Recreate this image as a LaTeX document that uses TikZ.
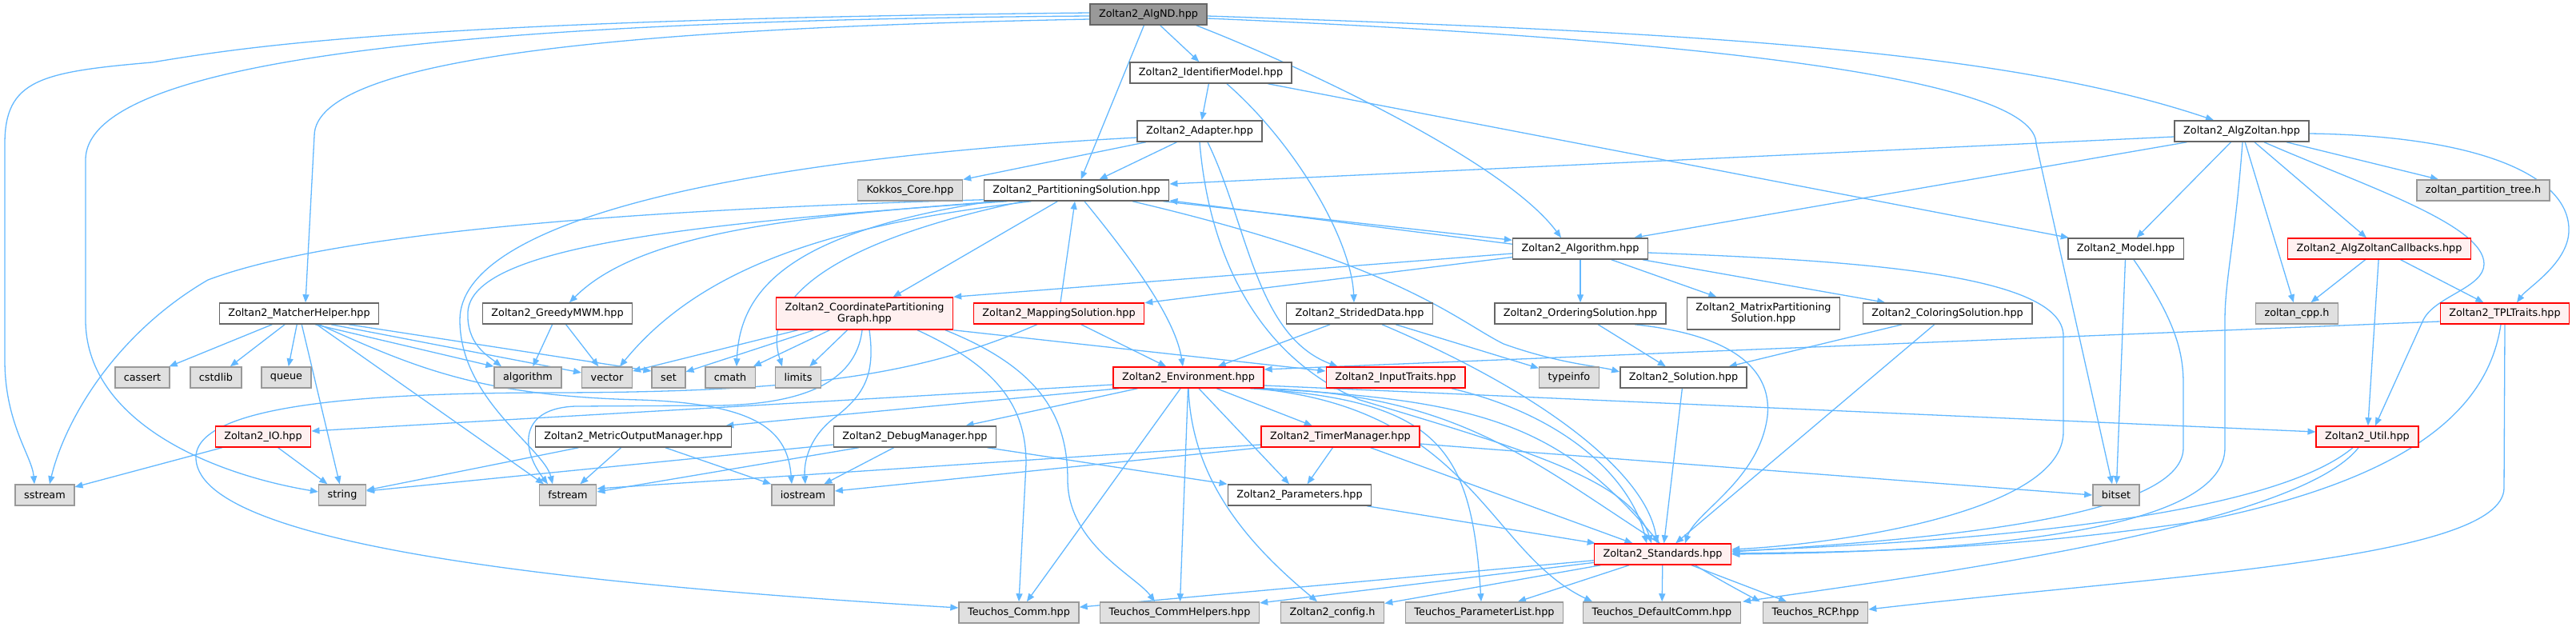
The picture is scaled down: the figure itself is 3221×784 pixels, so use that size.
\documentclass[tikz,border=0pt]{standalone}
\usepackage{fontspec}
\setmainfont{DejaVu Sans}
\usepackage{tikz}
\usetikzlibrary{arrows.meta}

\definecolor{edgeblue}{HTML}{63B8FF}
\definecolor{boxgray}{HTML}{666666}
\definecolor{sysgray}{HTML}{999999}
\definecolor{sysfill}{HTML}{E0E0E0}
\definecolor{truncfill}{HTML}{FFF0F0}
\definecolor{rootfill}{HTML}{999999}

\pgfdeclarelayer{background}
\pgfsetlayers{background,main}

\begin{document}
\begin{tikzpicture}[x=1pt, y=-1pt,
    file/.style={draw=boxgray, fill=white, line width=1.5pt, minimum height=26pt,
      inner xsep=11pt, inner ysep=1pt, align=center,
      font=\fontsize{12.8}{14.6}\selectfont},
    sysfile/.style={file, draw=sysgray, fill=sysfill},
    truncfile/.style={file, draw=red, fill=truncfill},
    rootfile/.style={file, fill=rootfill},
    dep/.style={draw=edgeblue, line width=1.3pt, -{Triangle[length=10pt,width=8pt]}}]
      \useasboundingbox (0,0) rectangle (3221,784);

      % Vertices
      \node[rootfile] (root) at (1436,18) {Zoltan2\_AlgND.hpp};
      \node[file] (idmodel) at (1514,91) {Zoltan2\_IdentifierModel.hpp};
      \node[file] (adapter) at (1500,164) {Zoltan2\_Adapter.hpp};
      \node[file] (algzoltan) at (2803,164) {Zoltan2\_AlgZoltan.hpp};
      \node[sysfile] (kokkos) at (1138,238) {Kokkos\_Core.hpp};
      \node[file] (partsol) at (1346,238) {Zoltan2\_PartitioningSolution.hpp};
      \node[sysfile] (ptree) at (3105,238) {zoltan\_partition\_tree.h};
      \node[file] (alg) at (1976,311) {Zoltan2\_Algorithm.hpp};
      \node[file] (model) at (2658,311) {Zoltan2\_Model.hpp};
      \node[truncfile] (callbacks) at (2975,311) {Zoltan2\_AlgZoltanCallbacks.hpp};
      \node[file] (matcher) at (374,392) {Zoltan2\_MatcherHelper.hpp};
      \node[file] (greedy) at (697,392) {Zoltan2\_GreedyMWM.hpp};
      \node[truncfile, minimum height=40pt] (coordgraph) at (1081,392)
  {Zoltan2\_CoordinatePartitioning\\Graph.hpp};
      \node[truncfile] (mapsol) at (1324,392) {Zoltan2\_MappingSolution.hpp};
      \node[file] (strided) at (1700,392) {Zoltan2\_StridedData.hpp};
      \node[file] (ordsol) at (1976,392) {Zoltan2\_OrderingSolution.hpp};
      \node[file, minimum height=40pt] (matsol) at (2205,392)
  {Zoltan2\_MatrixPartitioning\\Solution.hpp};
      \node[file] (colsol) at (2435,392) {Zoltan2\_ColoringSolution.hpp};
      \node[sysfile] (zoltancpp) at (2872,392) {zoltan\_cpp.h};
      \node[truncfile] (tpltraits) at (3132,392) {Zoltan2\_TPLTraits.hpp};
      \node[sysfile] (cassert) at (178,472) {cassert};
      \node[sysfile] (cstdlib) at (270,472) {cstdlib};
      \node[sysfile] (queue) at (358,472) {queue};
      \node[sysfile] (algo) at (660,472) {algorithm};
      \node[sysfile] (vector) at (759,472) {vector};
      \node[sysfile] (set) at (836,472) {set};
      \node[sysfile] (cmath) at (913,472) {cmath};
      \node[sysfile] (limits) at (998,472) {limits};
      \node[truncfile] (env) at (1486,472) {Zoltan2\_Environment.hpp};
      \node[truncfile] (inputtraits) at (1745,472) {Zoltan2\_InputTraits.hpp};
      \node[sysfile] (typeinfo) at (1962,472) {typeinfo};
      \node[file] (solution) at (2105,472) {Zoltan2\_Solution.hpp};
      \node[truncfile] (io) at (329,546) {Zoltan2\_IO.hpp};
      \node[file] (metric) at (792,546) {Zoltan2\_MetricOutputManager.hpp};
      \node[file] (debug) at (1144,546) {Zoltan2\_DebugManager.hpp};
      \node[truncfile] (timer) at (1676,546) {Zoltan2\_TimerManager.hpp};
      \node[truncfile] (util) at (2960,546) {Zoltan2\_Util.hpp};
      \node[sysfile] (sstream) at (56,619) {sstream};
      \node[sysfile] (string) at (428,619) {string};
      \node[sysfile] (fstream) at (710,619) {fstream};
      \node[sysfile] (iostream) at (1004,619) {iostream};
      \node[file] (params) at (1625,619) {Zoltan2\_Parameters.hpp};
      \node[sysfile] (bitset) at (2646,619) {bitset};
      \node[truncfile] (standards) at (2079,693) {Zoltan2\_Standards.hpp};
      \node[sysfile] (tcomm) at (1274,766) {Teuchos\_Comm.hpp};
      \node[sysfile] (tcommhelp) at (1475,766) {Teuchos\_CommHelpers.hpp};
      \node[sysfile] (config) at (1666,766) {Zoltan2\_config.h};
      \node[sysfile] (plist) at (1856,766) {Teuchos\_ParameterList.hpp};
      \node[sysfile] (defcomm) at (2078,766) {Teuchos\_DefaultComm.hpp};
      \node[sysfile] (rcp) at (2270,766) {Teuchos\_RCP.hpp};

      % Edges
      \begin{pgfonlayer}{background}
      \draw[dep] ([yshift=2pt]root.west) .. controls (500,25) and (300,60) .. (190,78) .. controls (50,90) and (6,100) .. (6,180) -- (6,450) .. controls (6,530) and (40,570) .. ([xshift=-13pt]sstream.north);
      \draw[dep] ([yshift=-2pt]root.west) .. controls (700,25) and (107,60) .. (107,200) -- (107,400) .. controls (107,520) and (250,590) .. ([yshift=4pt]string.west);
      \draw[dep] ([yshift=-6pt]root.west) .. controls (800,35) and (393,70) .. (393,170) -- ([xshift=8pt]matcher.north);
      \draw[dep] (root) -- (partsol);
      \draw[dep] (root) -- (idmodel);
      \draw[dep] ([xshift=-14pt]root.south east) .. controls (1620,80) and (1880,200) .. ([xshift=-24pt]alg.north);
      \draw[dep] ([yshift=-2pt]root.east) .. controls (2100,40) and (2500,60) .. ([xshift=-35pt]algzoltan.north);
      \draw[dep] ([yshift=-5pt]root.east) .. controls (2150,50) and (2546,100) .. (2546,180) -- ([xshift=-5pt]bitset.north);

      \draw[dep] (idmodel) -- (adapter);
      \draw[dep] ([xshift=20pt]idmodel.south) .. controls (1620,180) and (1690,300) .. ([xshift=-7pt]strided.north);
      \draw[dep] (idmodel) -- (model);

      \draw[dep] (adapter) -- (kokkos);
      \draw[dep] (adapter) -- (partsol);
      \draw[dep] ([yshift=-8pt]adapter.west) .. controls (900,200) and (575,280) .. (575,400) .. controls (575,500) and (680,560) .. ([xshift=-19pt]fstream.north);
      \draw[dep] (adapter.south) .. controls (1510,300) and (1560,440) .. (1700,500) .. controls (1900,560) and (2040,600) .. ([xshift=-14pt]standards.north);
      \draw[dep] ([xshift=10pt]adapter.south) .. controls (1560,280) and (1570,420) .. ([xshift=15pt]inputtraits.north west);

      \draw[dep] ([xshift=-8pt]partsol.south east) -- ([yshift=-3pt]alg.north west);
      \draw[dep] ([yshift=-8pt]alg.north west) -- ([yshift=1pt]partsol.south east);
      \draw[dep] ([yshift=2pt]partsol.south west) .. controls (800,262) and (420,290) .. (260,350) .. controls (140,420) and (80,530) .. ([xshift=6pt]sstream.north);
      \draw[dep] ([xshift=20pt]partsol.south west) .. controls (1000,270) and (800,290) .. ([xshift=15pt]greedy.north);
      \draw[dep] ([xshift=30pt]partsol.south west) .. controls (850,280) and (590,310) .. (585,390) .. controls (583,430) and (610,445) .. ([xshift=-33pt]algo.north);
      \draw[dep] ([xshift=60pt]partsol.south west) .. controls (1050,280) and (880,330) .. ([xshift=16pt]vector.north);
      \draw[dep] ([xshift=10pt]partsol.south west) .. controls (990,290) and (925,360) .. ([xshift=8pt]cmath.north);
      \draw[dep] ([xshift=50pt]partsol.south west) .. controls (1050,300) and (950,370) .. ([xshift=-20pt]limits.north);
      \draw[dep] (partsol) -- (coordgraph);
      \draw[dep] ([xshift=10pt]partsol.south) .. controls (1420,330) and (1470,400) .. ([xshift=-7pt]env.north);
      \draw[dep] ([xshift=70pt]partsol.south) .. controls (1750,330) and (1820,400) .. (1880,430) .. controls (1950,455) and (2000,458) .. ([yshift=7pt]solution.west);

      \draw[dep] (mapsol) -- (partsol);
      \draw[dep] (mapsol) -- (env);
      \draw[dep] ([xshift=80pt]mapsol.south west) .. controls (1150,470) and (1000,490) .. (700,491) .. controls (500,491) and (250,500) .. (245,570) .. controls (240,680) and (700,730) .. ([yshift=6pt]tcomm.west);

      \draw[dep] (coordgraph) -- (vector);
      \draw[dep] (coordgraph) -- (set);
      \draw[dep] (coordgraph) -- (cmath);
      \draw[dep] (coordgraph) -- (limits);
      \draw[dep] ([xshift=-3pt]coordgraph.south) .. controls (1070,480) and (1000,505) .. (900,507) -- (720,508) .. controls (650,510) and (650,560) .. ([xshift=-25pt]fstream.north);
      \draw[dep] ([xshift=6pt]coordgraph.south) .. controls (1095,470) and (1080,495) .. (1040,525) .. controls (1010,550) and (1005,580) .. ([xshift=3pt]iostream.north);
      \draw[dep] ([xshift=66pt]coordgraph.south) .. controls (1250,460) and (1283,510) .. (1283,580) -- (tcomm.north);
      \draw[dep] ([xshift=101pt]coordgraph.south) .. controls (1300,460) and (1335,520) .. (1335,600) .. controls (1335,680) and (1420,720) .. ([xshift=-31pt]tcommhelp.north);
      \draw[dep] (coordgraph.south east) -- ([yshift=8pt]inputtraits.west);

      \draw[dep] ([yshift=-6pt]alg.west) -- (coordgraph.north east);
      \draw[dep] (alg) -- (mapsol);
      \draw[dep] (alg) -- (ordsol);
      \draw[dep] (alg) -- (matsol);
      \draw[dep] (alg) -- (colsol);
      \draw[dep] ([yshift=-5pt]alg.east) .. controls (2300,325) and (2580,340) .. (2580,420) -- (2580,540) .. controls (2580,640) and (2300,680) .. ([yshift=6pt]standards.east);

      \draw[dep] (model) -- (bitset);
      \draw[dep] ([xshift=10pt]model.south) .. controls (2720,400) and (2730,440) .. (2730,480) -- (2730,560) .. controls (2730,650) and (2400,675) .. ([yshift=3pt]standards.east);

      \draw[dep] ([yshift=-7pt]algzoltan.west) -- ([yshift=8pt]partsol.east);
      \draw[dep] ([xshift=16pt]algzoltan.south west) -- ([xshift=-18pt]alg.north east);
      \draw[dep] (algzoltan) -- (model);
      \draw[dep] ([xshift=1pt]algzoltan.south) .. controls (2795,300) and (2782,350) .. (2782,400) -- (2782,560) .. controls (2782,660) and (2500,690) .. (standards.east);
      \draw[dep] (algzoltan) -- (zoltancpp);
      \draw[dep] (algzoltan) -- (callbacks);
      \draw[dep] (algzoltan) -- (ptree);
      \draw[dep] ([xshift=28pt]algzoltan.south) .. controls (2950,230) and (3106,280) .. (3106,330) .. controls (3106,360) and (3045,370) .. (3030,400) -- ([xshift=10pt]util.north);
      \draw[dep] ([yshift=-3pt]algzoltan.east) .. controls (3100,170) and (3215,220) .. (3212,290) .. controls (3210,330) and (3160,360) .. ([xshift=15pt]tpltraits.north);

      \draw[dep] (callbacks) -- (zoltancpp);
      \draw[dep] (callbacks) -- (util);
      \draw[dep] (callbacks) -- (tpltraits);

      \draw[dep] ([yshift=-10pt]tpltraits.west) -- ([yshift=10pt]env.east);
      \draw[dep] ([xshift=-5pt]tpltraits.south) .. controls (3110,520) and (3000,600) .. (2760,650) .. controls (2500,690) and (2300,690) .. ([yshift=1pt]standards.east);
      \draw[dep] (tpltraits.south) -- (3131,610) .. controls (3131,700) and (2700,720) .. ([yshift=4pt]rcp.east);

      \draw[dep] ([xshift=-18pt]util.south) .. controls (2870,620) and (2650,670) .. ([yshift=4pt]standards.east);
      \draw[dep] ([xshift=-11pt]util.south) .. controls (2870,660) and (2400,720) .. ([xshift=2pt]defcomm.north east);

      \draw[dep] ([yshift=-9pt]env.west) -- ([yshift=7pt]io.east);
      \draw[dep] ([xshift=8pt]env.south west) -- ([xshift=-8pt]metric.north east);
      \draw[dep] (env) -- (debug);
      \draw[dep] (env) -- (timer);
      \draw[dep] (env) -- (params);
      \draw[dep] (env) -- (tcomm);
      \draw[dep] (env) -- (tcommhelp);
      \draw[dep] (env.south) .. controls (1490,600) and (1560,680) .. ([xshift=-19pt]config.north);
      \draw[dep] ([yshift=-10pt]env.east) -- ([yshift=6pt]util.west);
      \draw[dep] ([xshift=-18pt]env.south east) .. controls (1800,500) and (1840,560) .. ([xshift=-4pt]plist.north);
      \draw[dep] ([xshift=-12pt]env.south east) .. controls (1840,510) and (1860,690) .. ([xshift=-87pt]defcomm.north);
      \draw[dep] ([xshift=-4pt]env.south east) .. controls (1850,500) and (1950,530) .. ([xshift=-4pt]standards.north);
      \draw[dep] (env.south east) .. controls (1880,495) and (1950,620) .. ([xshift=-3pt]rcp.north west);

      \draw[dep] (standards) -- (tcomm);
      \draw[dep] (standards) -- (tcommhelp);
      \draw[dep] (standards) -- (config);
      \draw[dep] (standards) -- (plist);
      \draw[dep] (standards) -- (defcomm);
      \draw[dep] (standards) -- (rcp);

      \draw[dep] (params) -- (standards);

      \draw[dep] (timer) -- (params);
      \draw[dep] (timer) -- (standards);
      \draw[dep] ([yshift=-9pt]timer.east) -- (bitset.west);
      \draw[dep] ([yshift=-10pt]timer.west) -- ([yshift=8pt]fstream.east);
      \draw[dep] (timer.south west) -- ([yshift=5pt]iostream.east);

      \draw[dep] ([yshift=-10pt]debug.west) -- ([yshift=5pt]string.east);
      \draw[dep] ([xshift=32pt]debug.south west) -- ([yshift=4pt]fstream.east);
      \draw[dep] (debug) -- (iostream);
      \draw[dep] (debug) -- (params);

      \draw[dep] (metric) -- (string);
      \draw[dep] (metric) -- (fstream);
      \draw[dep] (metric) -- (iostream);

      \draw[dep] (io) -- (sstream);
      \draw[dep] (io) -- (string);

      \draw[dep] (matcher) -- (cassert);
      \draw[dep] (matcher) -- (cstdlib);
      \draw[dep] (matcher) -- (queue);
      \draw[dep] (matcher) -- (string);
      \draw[dep] ([xshift=22pt]matcher.south) -- ([xshift=-30pt]fstream.north);
      \draw[dep] ([xshift=20pt]matcher.south) -- (algo.north west);
      \draw[dep] ([xshift=40pt]matcher.south) -- ([yshift=6pt]vector.west);
      \draw[dep] ([xshift=62pt]matcher.south) -- ([yshift=8pt]set.west);
      \draw[dep] ([xshift=25pt]matcher.south) .. controls (520,460) and (600,495) .. (800,500) .. controls (950,505) and (985,540) .. ([xshift=-14pt]iostream.north);

      \draw[dep] (greedy) -- (algo);
      \draw[dep] (greedy) -- (vector);

      \draw[dep] (strided) -- (env);
      \draw[dep] (strided) -- (typeinfo);
      \draw[dep] ([xshift=28pt]strided.south) .. controls (1950,500) and (2060,600) .. ([xshift=-7pt]standards.north);

      \draw[dep] (ordsol) -- (solution);
      \draw[dep] ([xshift=68pt]ordsol.south) .. controls (2180,420) and (2215,470) .. (2210,520) .. controls (2200,600) and (2120,640) .. ([xshift=28pt]standards.north);

      \draw[dep] (colsol) -- (solution);
      \draw[dep] (colsol) -- (standards);
      \draw[dep] (solution) -- (standards);
      \draw[dep] ([xshift=70pt]inputtraits.south) .. controls (1960,520) and (2040,600) .. ([xshift=-20pt]standards.north);
      \end{pgfonlayer}
  \end{tikzpicture}
\end{document}
